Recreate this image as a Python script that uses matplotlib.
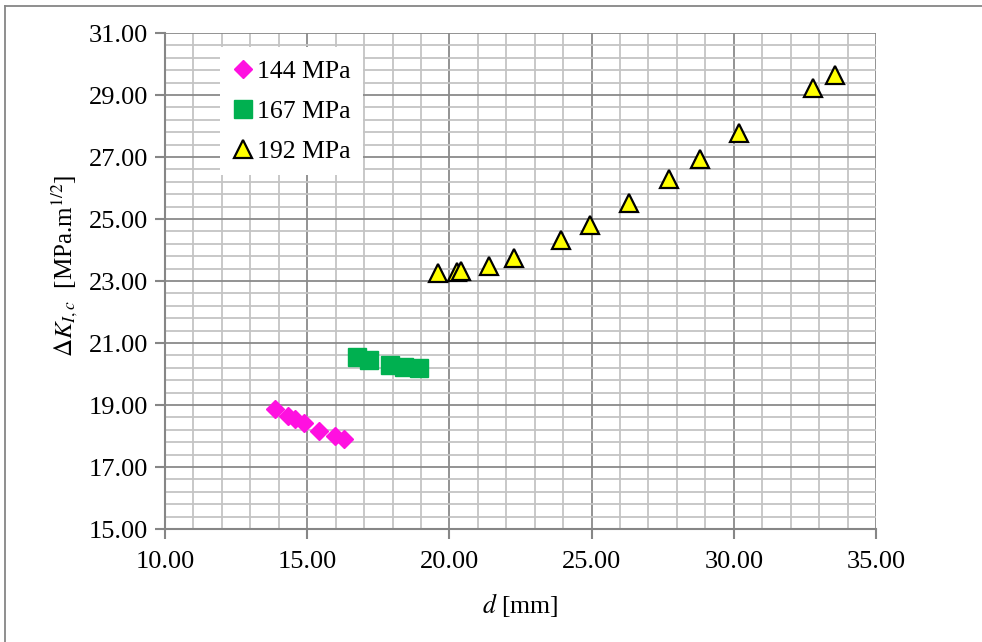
import matplotlib
matplotlib.use("Agg")
import matplotlib.pyplot as plt
from matplotlib.ticker import MultipleLocator, FormatStrFormatter
from matplotlib.lines import Line2D

plt.rcParams["font.family"] = ["Liberation Serif", "DejaVu Serif"]
plt.rcParams["mathtext.fontset"] = "stix"

# Crack length d [mm] and stress intensity range for each stress level
d_144 = [13.87, 14.34, 14.58, 14.87, 15.42, 15.99, 16.31]
k_144 = [18.86, 18.65, 18.54, 18.41, 18.17, 18.00, 17.89]

d_167 = [16.74, 17.16, 17.92, 18.40, 18.92]
k_167 = [20.54, 20.44, 20.28, 20.22, 20.18]

d_192 = [19.59, 20.25, 20.41, 21.40, 22.26, 23.93, 24.96, 26.30, 27.71,
         28.81, 30.18, 32.79, 33.56]
k_192 = [23.26, 23.30, 23.33, 23.50, 23.73, 24.33, 24.80, 25.51, 26.30,
         26.95, 27.76, 29.24, 29.66]

labels = ["144 MPa", "167 MPa", "192 MPa"]

W, H = 982, 642
fig = plt.figure(figsize=(W / 100, H / 100), dpi=100)
fig.patch.set_facecolor("white")

# outer chart frame (left and top edges)
fx, fy = 4.5 / W, 1 - 5.5 / H
fig.add_artist(Line2D([fx, fx], [0, fy], transform=fig.transFigure,
                      color="#868686", linewidth=1.3))
fig.add_artist(Line2D([fx, 1], [fy, fy], transform=fig.transFigure,
                      color="#868686", linewidth=1.3))

ax = fig.add_axes([165 / W, (H - 529) / H, (876 - 165) / W, (529 - 33) / H])

ax.set_xlim(10, 35)
ax.set_ylim(15, 31)
ax.xaxis.set_major_locator(MultipleLocator(5))
ax.xaxis.set_minor_locator(MultipleLocator(1))
ax.yaxis.set_major_locator(MultipleLocator(2, offset=1))
ax.yaxis.set_minor_locator(MultipleLocator(0.4, offset=0.2))
ax.xaxis.set_major_formatter(FormatStrFormatter("%.2f"))
ax.yaxis.set_major_formatter(FormatStrFormatter("%.2f"))

ax.grid(which="major", color="#8a8a8a", linewidth=1.3)
ax.grid(which="minor", color="#c4c4c4", linewidth=1.3)
ax.set_axisbelow(True)

for side in ["top", "right"]:
    ax.spines[side].set_visible(False)
for side in ["left", "bottom"]:
    ax.spines[side].set_color("#868686")
    ax.spines[side].set_linewidth(1.5)

ax.tick_params(which="major", direction="out", length=7, width=1.5,
               color="#868686", labelsize=19)
ax.tick_params(axis="x", which="major", pad=9)
ax.tick_params(axis="y", which="major", pad=5)
ax.tick_params(which="minor", length=0)

ax.plot(d_144, k_144, linestyle="none", marker="D", ms=9,
        color="#ff10e0", mec="#ff10e0", label=labels[0], zorder=3)
ax.plot(d_167, k_167, linestyle="none", marker="s", ms=13,
        color="#00b050", mec="#00b050", label=labels[1], zorder=3)
ax.plot(d_192, k_192, linestyle="none", marker="^", ms=12.5,
        color="#ffff00", mec="black", mew=1.6, label=labels[2], zorder=3)

leg = ax.legend(loc="upper left", bbox_to_anchor=(0.077, 0.972),
                fontsize=18.5, frameon=True, fancybox=False,
                framealpha=1, edgecolor="none", facecolor="white",
                handlelength=0.8, handletextpad=0.15, labelspacing=0.66,
                borderpad=0.5, borderaxespad=0)

ax.set_xlabel(r"$d$ [mm]", fontsize=18.5)
ax.xaxis.set_label_coords(0.5, -0.125)
ax.set_ylabel(r"$\Delta K_{I,c}$  [MPa.m$^{1/2}$]", fontsize=18)
ax.yaxis.set_label_coords(-0.12, 0.53)

fig.savefig("out.png", dpi=100, facecolor="white")
